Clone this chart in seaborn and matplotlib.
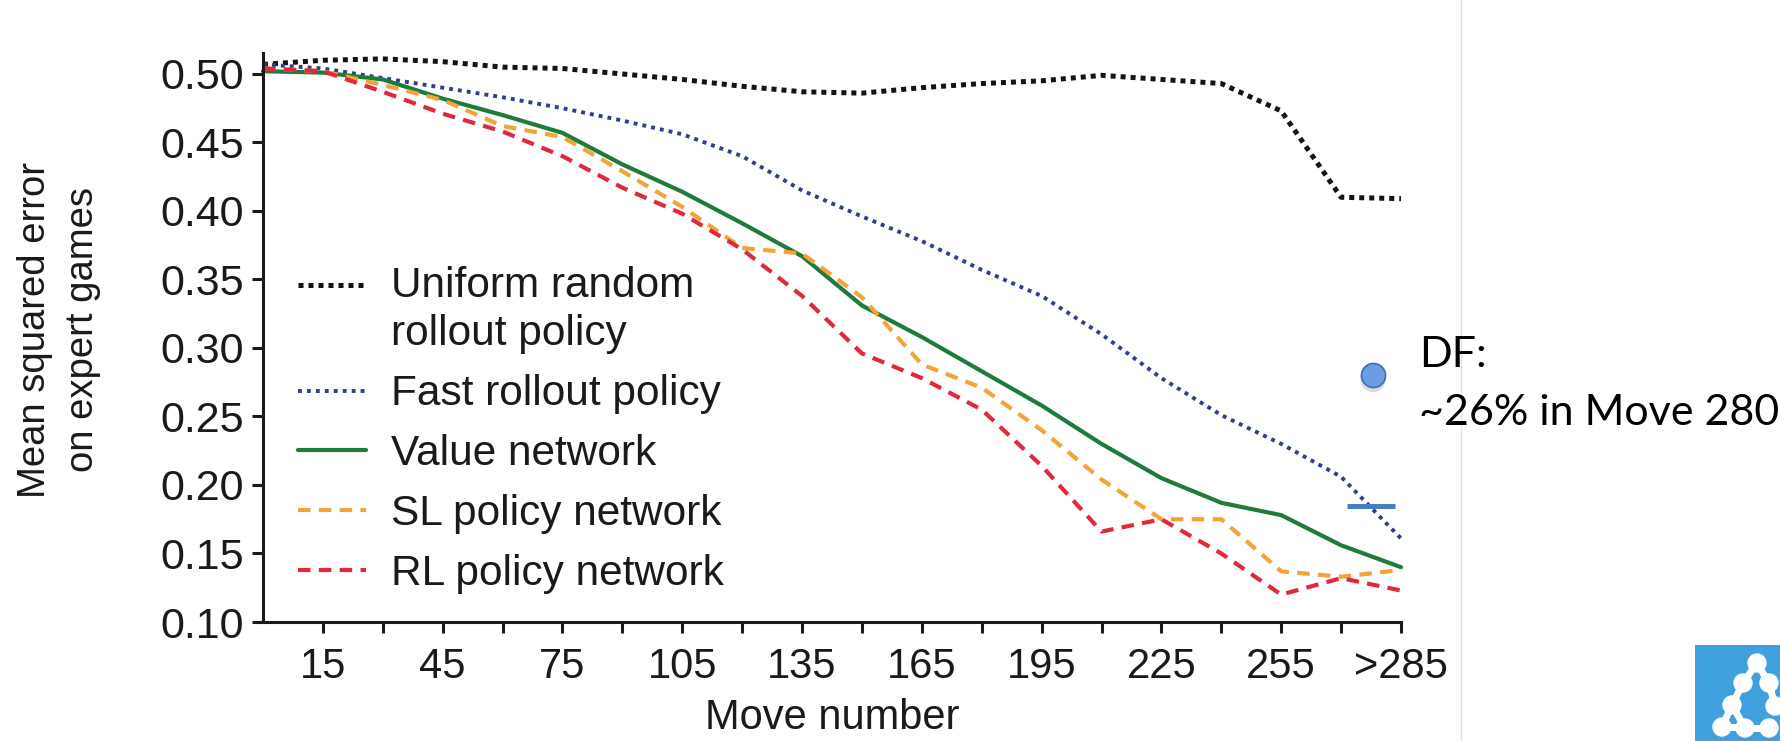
import numpy as np
import pandas as pd
import seaborn as sns
import matplotlib.pyplot as plt
from matplotlib.patches import Rectangle, Circle
from matplotlib.lines import Line2D

# valores (error cuadratico medio por numero de jugada)
moves = [0, 15, 30, 45, 60, 75, 90, 105, 120, 135, 150, 165, 180, 195, 210, 225, 240, 255, 270, 285]
uniform_random = [0.507, 0.510, 0.511, 0.509, 0.505, 0.504, 0.500, 0.496, 0.491, 0.487,
                  0.486, 0.490, 0.493, 0.495, 0.499, 0.496, 0.493, 0.473, 0.410, 0.409]
fast_rollout = [0.507, 0.504, 0.497, 0.490, 0.483, 0.475, 0.466, 0.456, 0.440, 0.415,
                0.396, 0.378, 0.357, 0.338, 0.310, 0.278, 0.251, 0.230, 0.206, 0.161]
value_net = [0.502, 0.501, 0.496, 0.482, 0.470, 0.457, 0.434, 0.414, 0.391, 0.367,
             0.331, 0.308, 0.283, 0.258, 0.230, 0.205, 0.187, 0.178, 0.156, 0.140]
sl_policy = [0.504, 0.502, 0.492, 0.481, 0.462, 0.454, 0.429, 0.403, 0.373, 0.369,
             0.337, 0.288, 0.271, 0.240, 0.204, 0.175, 0.175, 0.137, 0.133, 0.138]
rl_policy = [0.504, 0.502, 0.487, 0.471, 0.458, 0.440, 0.417, 0.398, 0.372, 0.338,
             0.296, 0.278, 0.255, 0.214, 0.166, 0.175, 0.150, 0.120, 0.132, 0.123]

series_names = ["Uniform random\nrollout policy", "Fast rollout policy", "Value network",
                "SL policy network", "RL policy network"]

tick_moves = list(range(15, 286, 15))
tick_labels = ["15", "", "45", "", "75", "", "105", "", "135", "", "165", "",
               "195", "", "225", "", "255", "", ">285"]
y_ticks = [0.10, 0.15, 0.20, 0.25, 0.30, 0.35, 0.40, 0.45, 0.50]

# anotacion de la diapositiva
df_move = 278
df_value = 0.28
df_bar_value = 0.185
df_bar_moves = [271.5, 283.5]

sns.set_style("ticks")
plt.rcParams['font.family'] = ['Liberation Sans', 'DejaVu Sans']

fig = plt.figure(figsize=(17.81, 7.41), dpi=100)
ax = fig.add_axes([263 / 1781, 1 - 622 / 741, (1401 - 263) / 1781, (622 - 53) / 741])

estilos = [
    ("#141414", (0, (1, 1)), 3.6),
    ("#2E3F8E", (0, (1, 1.3)), 2.8),
    ("#1F7A3C", "-", 3.0),
    ("#F2A33A", (0, (3.0, 2.0)), 3.0),
    ("#E1283C", (0, (3.0, 2.0)), 3.0),
]
valores = [uniform_random, fast_rollout, value_net, sl_policy, rl_policy]

handles = []
for nombre, vals, (color, ls, lw) in zip(series_names, valores, estilos):
    df = pd.DataFrame({"move": moves, "mse": vals})
    sns.lineplot(data=df, x="move", y="mse", ax=ax, color=color, linestyle=ls,
                 linewidth=lw, label=nombre, legend=False)
    ln = ax.lines[-1]
    ln.set_clip_on(False)
    handles.append(ln)

ax.set_xlim(0, 285)
ax.set_ylim(0.10, 0.5153)
ax.set_xticks(tick_moves)
ax.set_xticklabels(tick_labels)
ax.set_yticks(y_ticks)
ax.set_yticklabels([f"{v:.2f}" for v in y_ticks])
ax.tick_params(axis='both', direction='out', length=8, width=2.2, color='#1a1a1a',
               labelcolor='#1a1a1a', bottom=True, left=True)
ax.tick_params(axis='x', pad=10, labelsize=30)
ax.tick_params(axis='y', pad=6, labelsize=31)
sns.despine(ax=ax)
for s in ['left', 'bottom']:
    ax.spines[s].set_linewidth(2.2)
    ax.spines[s].set_color('#1a1a1a')

ax.set_xlabel("Move number", fontsize=30, color='#1a1a1a', labelpad=8)
ax.set_ylabel("Mean squared error\non expert games", fontsize=27.5, color='#1a1a1a',
              linespacing=1.45)
ax.yaxis.set_label_coords(-0.142, 0.514)

leg = ax.legend(handles=handles, labels=series_names, loc='lower left',
                bbox_to_anchor=(0.031, 0.049), frameon=False, fontsize=30.5,
                handlelength=1.6, handletextpad=0.6, labelspacing=0.47,
                borderpad=0, borderaxespad=0)
for t in leg.get_texts():
    t.set_linespacing(1.27)
    t.set_color('#1a1a1a')
# en el original el trazo de la primera entrada va a la altura de la primera linea
h0 = leg.legend_handles[0]
h0.set_ydata(np.asarray(h0.get_ydata()) + 19)

# punto y marca azul de la anotacion "DF"
ax.scatter([df_move], [df_value - 0.003], s=330, color='#9a9a9a', alpha=0.35,
           edgecolor='none', clip_on=False, zorder=4)
ax.scatter([df_move], [df_value], s=300, color='#6C9DE3', edgecolor='#3D6CC0',
           linewidth=1.2, clip_on=False, zorder=5)
ax.hlines(df_bar_value, df_bar_moves[0], df_bar_moves[1], color='#4A7EC2',
          linewidth=3.6, zorder=5)

fig.text(1419 / 1781, 1 - 367 / 741, "DF:", fontsize=31, family=['Lato', 'DejaVu Sans'],
         va='baseline', ha='left', color='black')
fig.text(1419 / 1781, 1 - 425 / 741, "~26% in Move 280", fontsize=31,
         family=['Lato', 'DejaVu Sans'], va='baseline', ha='left', color='black')

# linea separadora de la diapositiva
fig.add_artist(Line2D([1461 / 1781, 1461 / 1781], [0, 1], transform=fig.transFigure,
                      color='#E2E2E2', linewidth=1))

# logo en la esquina inferior derecha
logo = fig.add_axes([1695 / 1781, 0, 86 / 1781, 96 / 741])
logo.set_xlim(0, 86)
logo.set_ylim(0, 96)
logo.axis('off')
logo.add_patch(Rectangle((0, 0), 86, 96, color='#3FA0DD'))
nodos = [(62, 78), (48, 58), (74, 58), (37, 36), (80, 35), (27, 14), (50, 13), (74, 13)]
aristas = [(0, 1), (0, 2), (1, 3), (2, 4), (3, 5), (5, 6), (6, 7), (3, 6)]
for a, b in aristas:
    logo.plot([nodos[a][0], nodos[b][0]], [nodos[a][1], nodos[b][1]], color='white', lw=5)
for x, y in nodos:
    logo.add_patch(Circle((x, y), 9, color='white'))

fig.savefig("out.png", dpi=100, facecolor='white')
